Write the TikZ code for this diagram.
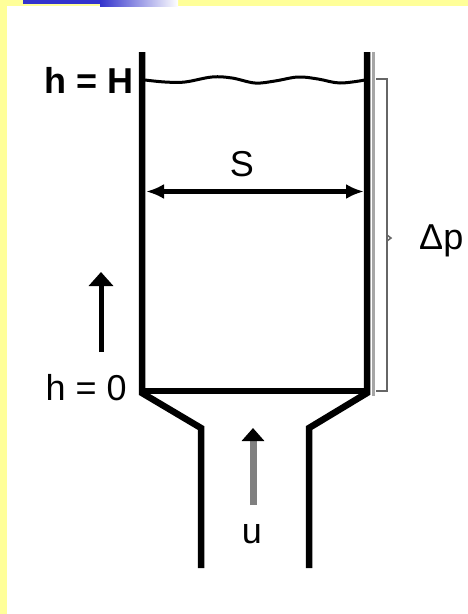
\documentclass[tikz,border=0pt]{standalone}
\usepackage{fontspec}
\setmainfont{Liberation Sans}
\usetikzlibrary{arrows.meta}
\definecolor{slideyellow}{HTML}{FFFF99}
\definecolor{slideblue}{HTML}{3333CC}
\begin{document}
\begin{tikzpicture}[x=1pt, y=-1pt]

\tikzstyle{every node} = [inner sep=0pt, font=\fontsize{36}{36}\selectfont]
\tikzstyle{wall} = [line width=6.5pt]
\tikzstyle{bigtip} = [-{Triangle[length=14pt, width=24pt]}]

% slide background
\useasboundingbox (0,0) rectangle (468,614);
\fill[slideyellow] (0,0) rectangle (468,614);
\fill[white] (7,6) rectangle (468,614);
\fill[slideblue] (23,0) rectangle (100,3.5);
\shade[left color=slideblue, right color=white] (100,0) rectangle (178,6);

% tank and inlet
\draw[wall] (142,52) -- (142,393) -- (201,428) -- (201,568);
\draw[wall] (367,52) -- (367,393) -- (309,428) -- (309,568);
\draw[wall] (142,391) -- (367,391);
\draw[gray!70, line width=3pt] (373,52) -- (373,396);

% free surface
\draw[line width=3pt] plot[smooth, tension=.6] coordinates {(145,80) (165,82) (185,82) (212,77) (232,78) (255,83) (275,81) (298,77) (318,79) (340,83) (365,80)};

\node[font=\fontsize{36}{36}\selectfont\bfseries, anchor=east] (hH) at (134,80) {h = H};
\node[anchor=east] (h0) at (127,388) {h = 0};
\node (s) at (242,164) {S};
\node[anchor=west] (dp) at (419,241) {Δp};
\node (u) at (252,534) {u};

% width
\coordinate (sl) at (146,191.5);
\coordinate (sr) at (364,191.5);
\draw[line width=4.5pt, {Latex[length=18pt, width=15pt]}-{Latex[length=18pt, width=15pt]}] (sl) -- (sr);

% pressure bracket
\draw[gray!80!black, line width=1.5pt] (376,79) -- (387,79) -- (387,391) -- (376,391);
\draw[gray!80!black, line width=1.5pt] (387,235) -- (391,238) -- (387,241);

% height arrow
\coordinate (a1) at (101,352);
\coordinate (a2) at (101,272);
\draw[line width=5pt, bigtip] (a1) -- (a2);

% inflow arrow
\coordinate (u1) at (253,505);
\coordinate (u2) at (253,428);
\draw[line width=7pt, gray, -{Triangle[length=13pt, width=22pt, color=black]}] (u1) -- (u2);
\end{tikzpicture}
\end{document}
